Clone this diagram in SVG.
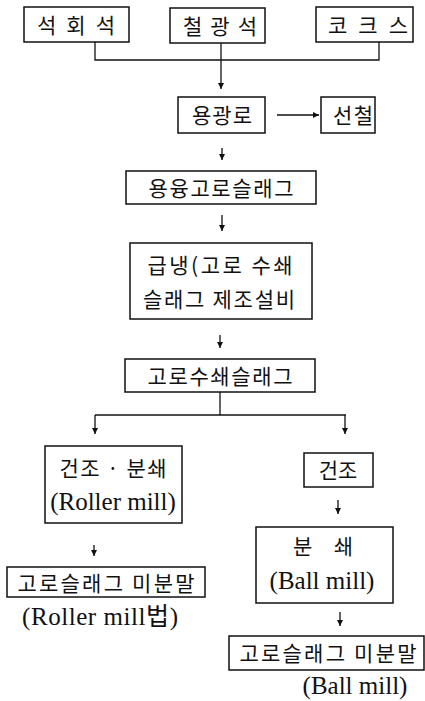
<svg xmlns="http://www.w3.org/2000/svg" width="425" height="701" viewBox="0 0 425 701">
<defs>
<style>
.box{fill:#fff;stroke:#111;stroke-width:1.5}
.k{font-family:"Noto Sans CJK KR","Noto Sans",sans-serif;font-size:21px;fill:#111;text-anchor:middle}
.e{font-family:"Liberation Serif","Noto Sans CJK KR",serif;font-size:25px;fill:#111;text-anchor:middle}
.ln{fill:none;stroke:#111;stroke-width:1.3}
</style>
<marker id="ah" viewBox="0 0 8 8" refX="8" refY="4" markerWidth="6" markerHeight="6" markerUnits="userSpaceOnUse" orient="auto">
<path d="M0,0 L8,4 L0,8 Z" fill="#111"/>
</marker>
</defs>
<rect width="425" height="701" fill="#fff"/>
<g id="connectors">
<polyline class="ln" points="95,42 95,60 379,60 379,42"/>
<line class="ln" x1="221" y1="43" x2="221" y2="89" marker-end="url(#ah)"/>
<line class="ln" x1="277" y1="115" x2="319" y2="115" marker-end="url(#ah)"/>
<line class="ln" x1="222" y1="148" x2="222" y2="160" marker-end="url(#ah)"/>
<line class="ln" x1="222" y1="215" x2="222" y2="231" marker-end="url(#ah)"/>
<line class="ln" x1="220" y1="335" x2="220" y2="348" marker-end="url(#ah)"/>
<polyline class="ln" points="220,392 220,415"/>
<line class="ln" x1="95" y1="415" x2="346" y2="415"/>
<line class="ln" x1="95" y1="415" x2="95" y2="434" marker-end="url(#ah)"/>
<line class="ln" x1="345" y1="415" x2="345" y2="434" marker-end="url(#ah)"/>
<line class="ln" x1="94" y1="545" x2="94" y2="556" marker-end="url(#ah)"/>
<line class="ln" x1="338" y1="500" x2="338" y2="514" marker-end="url(#ah)"/>
<line class="ln" x1="340" y1="612" x2="340" y2="626" marker-end="url(#ah)"/>
</g>
<g id="n1"><rect class="box" x="24" y="7" width="105" height="35"/><text class="k" x="76" y="33" textLength="78" lengthAdjust="spacing">석 회 석</text></g>
<g id="n2"><rect class="box" x="170" y="8" width="95" height="35"/><text class="k" x="220" y="34" textLength="74" lengthAdjust="spacing">철 광 석</text></g>
<g id="n3"><rect class="box" x="316" y="7" width="97" height="35"/><text class="k" x="368" y="33" textLength="80" lengthAdjust="spacing">코 크 스</text></g>
<g id="n4"><rect class="box" x="178" y="97" width="87" height="36"/><text class="k" x="222" y="123" textLength="60" lengthAdjust="spacing">용광로</text></g>
<g id="n5"><rect class="box" x="321" y="97" width="54" height="36"/><text class="k" x="353" y="123" textLength="40" lengthAdjust="spacing">선철</text></g>
<g id="n6"><rect class="box" x="126" y="171" width="190" height="33"/><text class="k" x="221" y="196" textLength="145" lengthAdjust="spacing">용융고로슬래그</text></g>
<g id="n7"><rect class="box" x="130" y="243" width="182" height="76"/><text class="k" x="220" y="273" textLength="145" lengthAdjust="spacing">급냉(고로 수쇄</text><text class="k" x="219" y="307" textLength="152" lengthAdjust="spacing">슬래그 제조설비</text></g>
<g id="n8"><rect class="box" x="125" y="359" width="190" height="33"/><text class="k" x="220" y="384" textLength="145" lengthAdjust="spacing">고로수쇄슬래그</text></g>
<g id="n9"><rect class="box" x="45" y="446" width="137" height="77"/><text class="k" x="113" y="476" textLength="107" lengthAdjust="spacing">건조 · 분쇄</text><text class="e" x="113" y="510">(Roller mill)</text></g>
<g id="n10"><rect class="box" x="7" y="567" width="198" height="30"/><text class="k" x="106" y="591" textLength="177" lengthAdjust="spacing">고로슬래그 미분말</text></g>
<g id="t1"><text class="e" x="100" y="625" textLength="156" lengthAdjust="spacing">(Roller mill법)</text></g>
<g id="n11"><rect class="box" x="304" y="453" width="69" height="34"/><text class="k" x="338" y="478">건조</text></g>
<g id="n12"><rect class="box" x="256" y="527" width="137" height="76"/><text class="k" x="323" y="554" textLength="60" lengthAdjust="spacing">분 쇄</text><text class="e" x="322" y="589">(Ball mill)</text></g>
<g id="n13"><rect class="box" x="229" y="636" width="195" height="34"/><text class="k" x="328" y="661" textLength="177" lengthAdjust="spacing">고로슬래그 미분말</text></g>
<g id="t2"><text class="e" x="355" y="694">(Ball mill)</text></g>
</svg>
